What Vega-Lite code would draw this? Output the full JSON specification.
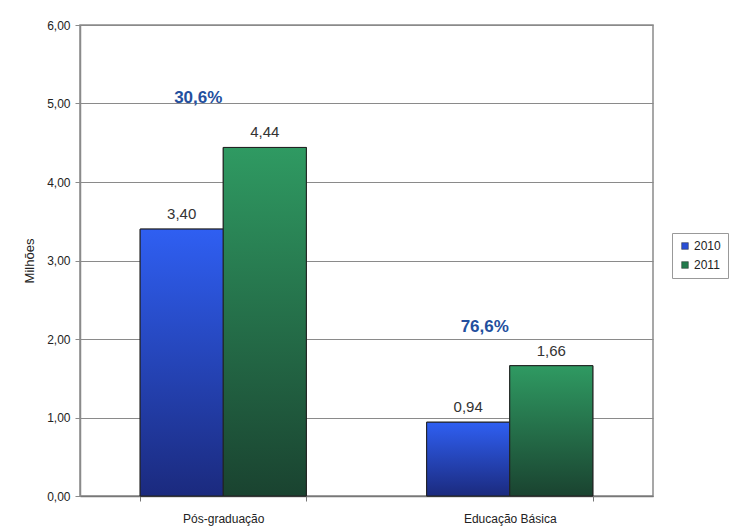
{
  "$schema": "https://vega.github.io/schema/vega-lite/v6.json",
  "width": 573,
  "height": 471,
  "autosize": "none",
  "padding": {"left": 80, "top": 25, "right": 76, "bottom": 34},
  "background": "white",
  "config": {
    "font": "Liberation Sans",
    "view": {"stroke": "#8a8a8a", "strokeWidth": 1.5},
    "axis": {"labelColor": "#222", "titleColor": "#222", "labelFont": "Liberation Sans", "titleFont": "Liberation Sans"}
  },
  "datasets": {
    "bars": [
      {"cat": "Pós-graduação", "year": "2010", "value": 3.40, "label": "3,40"},
      {"cat": "Pós-graduação", "year": "2011", "value": 4.44, "label": "4,44"},
      {"cat": "Educação Básica", "year": "2010", "value": 0.94, "label": "0,94"},
      {"cat": "Educação Básica", "year": "2011", "value": 1.66, "label": "1,66"}
    ],
    "pct": [
      {"cat": "Pós-graduação", "pos": 5.07, "label": "30,6%"},
      {"cat": "Educação Básica", "pos": 2.15, "label": "76,6%"}
    ]
  },
  "encoding": {
    "x": {
      "field": "cat",
      "type": "nominal",
      "sort": ["Pós-graduação", "Educação Básica"],
      "scale": {"paddingInner": 0.42, "paddingOuter": 0.21},
      "axis": {
        "title": null,
        "labelAngle": 0,
        "labelFontSize": 12,
        "labelPadding": 12,
        "domainColor": "#777",
        "domainWidth": 1.5,
        "tickColor": "#777",
        "tickBand": "extent",
        "tickSize": 5
      }
    }
  },
  "layer": [
    {
      "data": {"name": "bars"},
      "mark": {"type": "bar", "stroke": "#222", "strokeWidth": 1},
      "encoding": {
        "xOffset": {"field": "year", "type": "nominal", "scale": {"domain": ["2010", "2011"], "paddingInner": 0}},
        "y": {
          "field": "value",
          "type": "quantitative",
          "scale": {"domain": [0, 6]},
          "axis": {
            "title": "Milhões",
            "titleFontSize": 13,
            "titleFontWeight": "normal",
            "titlePadding": 10,
            "values": [0, 1, 2, 3, 4, 5, 6],
            "labelExpr": "replace(format(datum.value, '.2f'), '.', ',')",
            "labelFontSize": 12,
            "labelPadding": 5,
            "grid": true,
            "gridColor": "#8a8a8a",
            "gridWidth": 1.2,
            "domainColor": "#8a8a8a",
            "domainWidth": 1.5,
            "tickColor": "#8a8a8a",
            "tickSize": 5
          }
        },
        "color": {
          "field": "year",
          "type": "nominal",
          "scale": {"domain": ["2010", "2011"], "range": ["#2a4fd6", "#237a4c"]},
          "legend": {
            "title": null,
            "orient": "none",
            "legendX": 592,
            "legendY": 208,
            "symbolType": "square",
            "symbolSize": 45,
            "symbolStrokeColor": "#333",
            "symbolStrokeWidth": 0.5,
            "labelFontSize": 12,
            "labelColor": "#222",
            "labelOffset": 3,
            "strokeColor": "#999",
            "padding": 7,
            "rowPadding": 7
          }
        }
      }
    },
    {
      "data": {"name": "bars"},
      "transform": [{"filter": "datum.year === '2010'"}],
      "mark": {
        "type": "bar",
        "stroke": "#222",
        "strokeWidth": 1,
        "fill": {
          "gradient": "linear", "x1": 0, "y1": 0, "x2": 0, "y2": 1,
          "stops": [{"offset": 0, "color": "#2f5ff2"}, {"offset": 1, "color": "#1b2a7e"}]
        }
      },
      "encoding": {
        "xOffset": {"field": "year", "type": "nominal", "scale": {"domain": ["2010", "2011"], "paddingInner": 0}},
        "y": {"field": "value", "type": "quantitative"}
      }
    },
    {
      "data": {"name": "bars"},
      "transform": [{"filter": "datum.year === '2011'"}],
      "mark": {
        "type": "bar",
        "stroke": "#222",
        "strokeWidth": 1,
        "fill": {
          "gradient": "linear", "x1": 0, "y1": 0, "x2": 0, "y2": 1,
          "stops": [{"offset": 0, "color": "#2f9a62"}, {"offset": 1, "color": "#1a4330"}]
        }
      },
      "encoding": {
        "xOffset": {"field": "year", "type": "nominal", "scale": {"domain": ["2010", "2011"], "paddingInner": 0}},
        "y": {"field": "value", "type": "quantitative"}
      }
    },
    {
      "data": {"name": "bars"},
      "mark": {"type": "text", "baseline": "bottom", "dy": -7, "fontSize": 15, "color": "#333"},
      "encoding": {
        "xOffset": {"field": "year", "type": "nominal", "scale": {"domain": ["2010", "2011"], "paddingInner": 0}},
        "y": {"field": "value", "type": "quantitative"},
        "text": {"field": "label"}
      }
    },
    {
      "data": {"name": "pct"},
      "mark": {"type": "text", "baseline": "middle", "dx": -25, "fontSize": 17, "fontWeight": "bold", "color": "#234f9e"},
      "encoding": {
        "y": {"field": "pos", "type": "quantitative"},
        "text": {"field": "label"}
      }
    }
  ]
}
